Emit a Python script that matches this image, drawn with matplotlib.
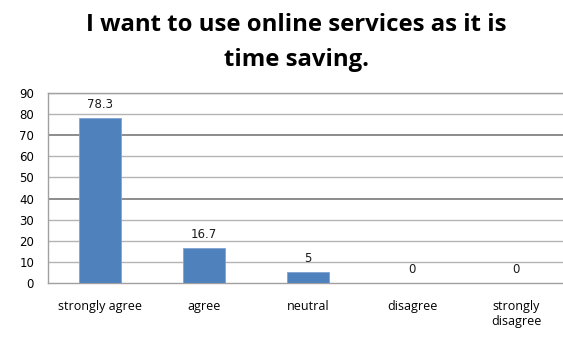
import matplotlib.pyplot as plt

categories = ['strongly agree', 'agree', 'neutral', 'disagree', 'strongly\ndisagree']
percent = [78.3, 16.7, 5, 0, 0]
value_labels = ['78.3', '16.7', '5', '0', '0']
y_ticks = list(range(0, 91, 10))

fig = plt.figure(figsize=(5.63, 3.37), dpi=100)
ax = fig.add_axes([48 / 563, 54 / 337, 515 / 563, 190 / 337])

x = range(len(categories))
ax.bar(x, percent, width=0.4, color='#4F81BD', edgecolor='#7FA3D3', linewidth=0.6, zorder=3)

# value labels just above each bar
for i, (v, lab) in enumerate(zip(percent, value_labels)):
    ax.annotate(lab, (i, v), xytext=(0, 5), textcoords='offset points',
                ha='center', va='bottom', fontsize=8.5, family='DejaVu Sans', color='#1a1a1a')

ax.set_ylim(0, 90)
ax.set_xlim(-0.5, 4.45)
ax.set_yticks(y_ticks)
ax.set_yticklabels([str(t) for t in y_ticks], fontsize=8.5, family='DejaVu Sans')
ax.set_xticks(list(x))
ax.set_xticklabels(categories, fontsize=9, family='Open Sans')
ax.tick_params(axis='both', length=0)
ax.tick_params(axis='x', pad=12)
ax.tick_params(axis='y', pad=10)

# gridlines (some render darker in the source picture)
for t in y_ticks[1:]:
    c = '#8c8c8c' if t in (40, 70) else '#b4b4b4'
    lw = 1.4 if t in (40, 70) else 1.0
    ax.axhline(t, color=c, linewidth=lw, zorder=1)

for s in ax.spines.values():
    s.set_color('#a0a0a0')
    s.set_linewidth(1.0)
ax.spines['right'].set_visible(False)

fig.text(0.527, 0.875, 'I want to use online services as it is\ntime saving.',
         ha='center', va='center', fontsize=17.2, fontweight='bold', family='Open Sans',
         linespacing=1.6)

plt.savefig('out.png', dpi=100)
